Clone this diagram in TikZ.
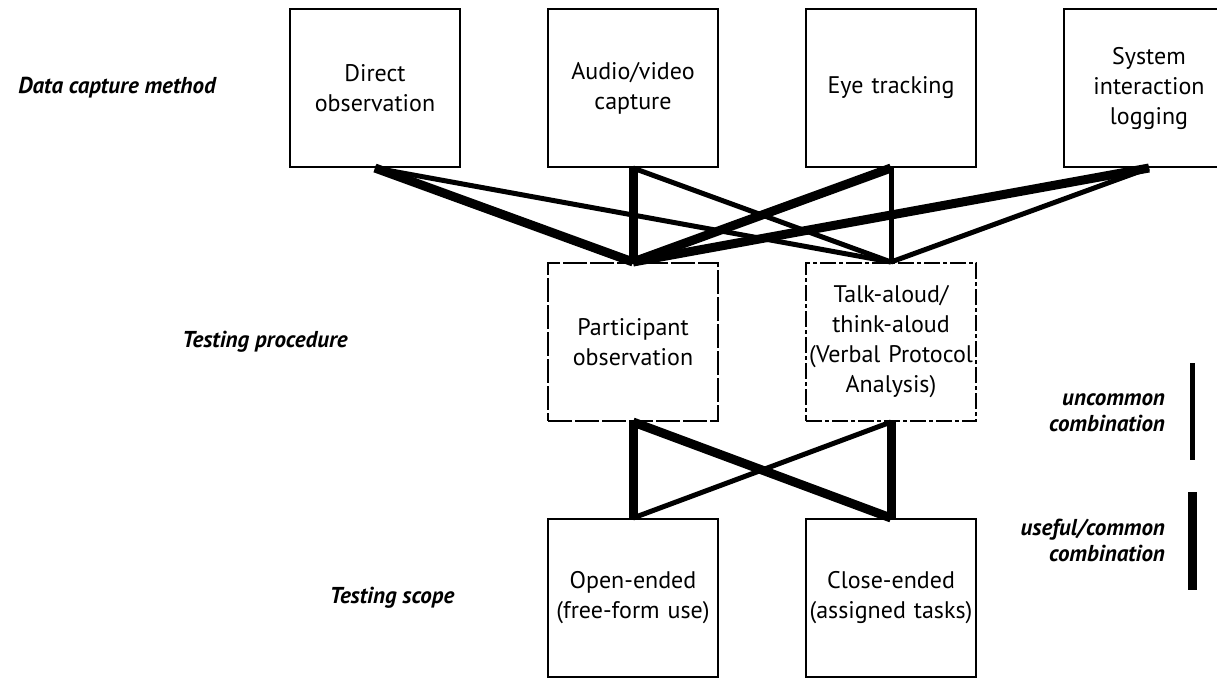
\documentclass[tikz,border=0pt]{standalone}
\usepackage{fontspec}
\setmainfont{PT Sans}
\usetikzlibrary{positioning}
\tikzset{
    %Define style for boxes
    stage/.style={
           rectangle,
           draw=black, line width=1pt,
           fill=white,
           text width=91pt,
           inner xsep=-3pt,
           minimum height=79pt,
           font=\fontsize{12}{15}\selectfont,
           align=center},
    %Define broken borders of the middle row
    brokenA/.style={dash pattern=on 12pt off 1.5pt},
    brokenB/.style={dash pattern=on 8pt off 1.5pt on 2pt off 1.5pt},
    %Define style for row and legend labels
    rowlabel/.style={
           font=\fontsize{11.5}{13}\selectfont\bfseries\itshape},
    % Define line styles
    strong/.style={line width=4.5pt},
    weak/.style={line width=2.5pt}
}

\begin{document}
\begin{tikzpicture}[x=0.5pt,y=-0.5pt,node distance=43pt]
\useasboundingbox (0,0) rectangle (1217,677);
% data capture methods
\node[stage](direct) at (375,88) {Direct\\observation};
\node[stage, right=of direct](audio){Audio/video\\capture};
\node[stage, right=of audio](eye){Eye tracking};
\node[stage, right=of eye](syslog){System\\interaction\\logging};
% testing procedures
\node[stage, brokenA, below=47pt of audio](part){Participant\\observation};
\node[stage, brokenB, below=47pt of eye](talk){Talk-aloud/\\think-aloud\\(Verbal Protocol\\Analysis)};
% testing scopes
\node[stage, below=48pt of part](open){Open-ended\\(free-form use)};
\node[stage, below=48pt of talk](close){Close-ended\\(assigned tasks)};
% row labels
\node[rowlabel](capture) at (117,88) {Data capture method};
\node[rowlabel](procedure) at (265,342) {Testing procedure};
\node[rowlabel](scope) at (392,598) {Testing scope};
% combinations
\path[strong]
	(direct.south) edge (part.north)
	(audio.south) edge (part.north)
	(eye.south) edge (part.north)
	(syslog.south) edge (part.north)
	(part.south) edge (open.north)
	(part.south) edge (close.north)
	(talk.south) edge (close.north);
\path[weak]
	(direct.south) edge (talk.north)
	(audio.south) edge (talk.north)
	(eye.south) edge (talk.north)
	(syslog.south) edge (talk.north)
	(talk.south) edge (open.north);
% legend
\node[rowlabel, align=right, anchor=east](uncommon) at (1172,413) {uncommon\\combination};
\node[rowlabel, align=right, anchor=east](common) at (1172,540) {useful/common\\combination};
\coordinate (u1) at (1192,363);
\coordinate (u2) at (1192,460);
\coordinate (c1) at (1192,492);
\coordinate (c2) at (1192,590);
\draw[weak] (u1) -- (u2);
\draw[strong] (c1) -- (c2);
\end{tikzpicture}
\end{document}
